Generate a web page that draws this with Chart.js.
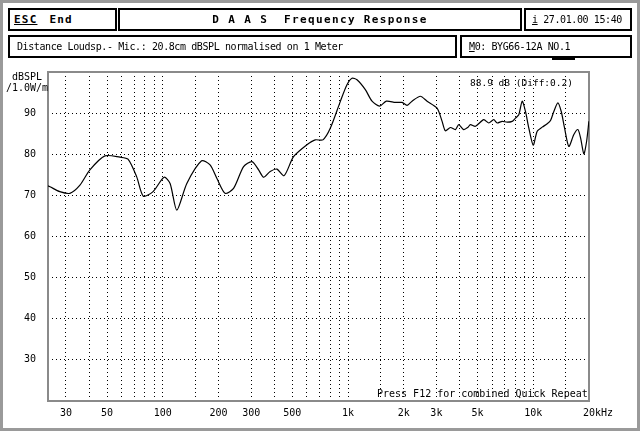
<!DOCTYPE html>
<html><head><meta charset="utf-8">
<script src="https://cdn.jsdelivr.net/npm/chart.js@4/dist/chart.umd.min.js"></script>
<style>
html,body{margin:0;padding:0;background:#fff;}
#wrap{position:relative;width:640px;height:431px;overflow:hidden;background:#fff;}
#frame{position:absolute;left:0;top:0;width:640px;height:431px;box-sizing:border-box;border:3px solid #9a9a9a;pointer-events:none;}
canvas{position:absolute;left:0;top:0;}
.box{position:absolute;border:2px solid #000;box-sizing:border-box;font-family:'DejaVu Sans Mono',monospace;font-size:10px;letter-spacing:-0.4px;white-space:pre;color:#000;display:flex;align-items:center;background:#fff;}
.bold{font-weight:bold;font-size:11px;}
#cur{position:absolute;left:552px;top:58px;width:23px;height:2px;background:#000;}
</style></head>
<body>
<div id="wrap">
<canvas id="c" width="640" height="431"></canvas>
<div class="box bold" style="left:8px;top:8px;width:109px;height:23px;padding-left:4px;letter-spacing:1.2px;"><u>ESC</u><span style="margin-left:12px">End</span></div>
<div class="box bold" style="left:118px;top:8px;width:404px;height:23px;justify-content:center;letter-spacing:1.35px;">D A A S  Frequency Response</div>
<div class="box" style="left:524px;top:8px;width:108px;height:23px;padding-left:6px;"><u>i</u> 27.01.00 15:40</div>
<div class="box" style="left:8px;top:35px;width:449px;height:23px;padding-left:7px;">Distance Loudsp.- Mic.: 20.8cm dBSPL normalised on 1 Meter</div>
<div class="box" style="left:460px;top:35px;width:172px;height:23px;padding-left:7px;"><u>M</u>0: BYG66-12A NO.1</div>
<div id="cur"></div>
<div id="frame"></div>
</div>
<script>
// ---- data ----
const freqHz = [24, 24.6, 27.8, 31.5, 35.7, 40.4, 48.7, 58.7, 64.9, 72.3, 78.5, 88.6, 101.6, 109.5, 119, 134.8, 162, 180, 196, 217, 241, 273, 303, 329, 350, 380, 413, 452, 508, 600, 665, 732, 802, 908, 987, 1051, 1118, 1240, 1348, 1481, 1610, 1801, 1958, 2083, 2216, 2458, 2672, 3026, 3221, 3355, 3571, 3800, 3960, 4214, 4429, 4581, 4874, 5406, 5753, 6121, 6386, 6794, 7233, 7697, 8019, 8355, 8715, 9081, 9461, 9995, 10505, 11180, 11897, 12397, 12917, 13575, 14163, 14756, 15566, 16568, 17414, 18009, 18766, 19409, 19975];
const splDb = [72.3, 72.1, 70.9, 70.5, 72.5, 76.2, 79.6, 79.3, 78.8, 74.5, 69.8, 70.9, 74.4, 72.9, 66.4, 72.9, 78.4, 77.4, 74.1, 70.5, 71.7, 77, 78.2, 76.2, 74.4, 75.8, 76.4, 74.8, 79.4, 82.3, 83.5, 83.5, 86.3, 92.8, 96.9, 98.5, 98.1, 95.7, 92.9, 91.7, 92.9, 92.6, 92.6, 91.9, 92.9, 94.1, 92.9, 91.2, 88, 85.7, 86.5, 86, 87.2, 86, 86.5, 87.2, 86.8, 88.4, 87.6, 88.4, 87.6, 88, 87.8, 88, 88.8, 89.6, 92.9, 90.4, 86.4, 82.2, 85.6, 86.6, 87.4, 88.2, 90.4, 92.5, 90.4, 86.4, 81.9, 84.8, 86, 84, 80.1, 83.1, 88];
const xGridHz = [30, 40, 50, 60, 70, 80, 90, 100, 150, 200, 300, 400, 500, 600, 700, 800, 900, 1000, 1500, 2000, 3000, 4000, 5000, 6000, 7000, 8000, 9000, 10000, 15000, 20000];
const xLabelHz = [30, 50, 100, 200, 300, 500, 1000, 2000, 3000, 5000, 10000, 20000];
const xLabelText = ['30', '50', '100', '200', '300', '500', '1k', '2k', '3k', '5k', '10k', '   20kHz'];
const yLabelDb = [30, 40, 50, 60, 70, 80, 90];
const yUnitLines = ['dBSPL', '/1.0W/m'];
const levelNote = '88.9 dB (Diff:0.2)';
const footNote = 'Press F12 for combined Quick Repeat';

const MONO = "'DejaVu Sans Mono', monospace";

const frameAndText = {
  id: 'frameAndText',
  beforeDatasetsDraw(chart) {
    const {ctx, chartArea: a} = chart;
    ctx.save();
    ctx.strokeStyle = '#8a8a8a';
    ctx.lineWidth = 2;
    ctx.strokeRect(a.left, a.top, a.right - a.left, a.bottom - a.top);
    ctx.restore();
  },
  afterDraw(chart) {
    const {ctx, chartArea: a} = chart;
    ctx.save();
    ctx.fillStyle = '#000';
    ctx.textBaseline = 'middle';
    ctx.textAlign = 'left';
    ctx.font = '10px ' + MONO;
    ctx.fillText(yUnitLines[0], 12, a.top + 5);
    ctx.fillText(yUnitLines[1], 6, a.top + 16);
    ctx.font = '9.5px ' + MONO;
    ctx.fillText(levelNote, a.right - 119, a.top + 12);
    ctx.font = '10px ' + MONO;
    ctx.fillText(footNote, a.right - 212, a.bottom - 7);
    ctx.restore();
  }
};

new Chart(document.getElementById('c'), {
  type: 'line',
  data: {
    datasets: [{
      data: freqHz.map((f, i) => ({x: f, y: splDb[i]})),
      borderColor: '#000',
      borderWidth: 1.2,
      pointRadius: 0,
      tension: 0.25,
      fill: false
    }]
  },
  options: {
    responsive: false,
    animation: false,
    devicePixelRatio: 1,
    layout: {padding: {left: 0, top: 72, right: 51, bottom: 0}},
    plugins: {legend: {display: false}, tooltip: {enabled: false}},
    scales: {
      x: {
        type: 'logarithmic',
        min: 24, max: 20000,
        afterBuildTicks: s => { s.ticks = xGridHz.map(v => ({value: v})); },
        afterFit: s => { s.height = 30; },
        grid: {color: '#000', lineWidth: 1, drawTicks: false},
        border: {display: false, dash: [1, 3]},
        ticks: {
          autoSkip: false, maxRotation: 0, minRotation: 0, padding: 6,
          color: '#000', font: {family: MONO, size: 10},
          callback: v => { const k = xLabelHz.indexOf(v); return k >= 0 ? xLabelText[k] : ''; }
        }
      },
      y: {
        type: 'linear',
        min: 20, max: 100,
        afterFit: s => { s.width = 48; },
        grid: {color: '#000', lineWidth: 1, drawTicks: false},
        border: {display: false, dash: [1, 3]},
        ticks: {
          stepSize: 10, padding: 12,
          color: '#000', font: {family: MONO, size: 10},
          callback: v => yLabelDb.includes(v) ? String(v) : ''
        }
      }
    }
  },
  plugins: [frameAndText]
});
</script>
</body></html>
